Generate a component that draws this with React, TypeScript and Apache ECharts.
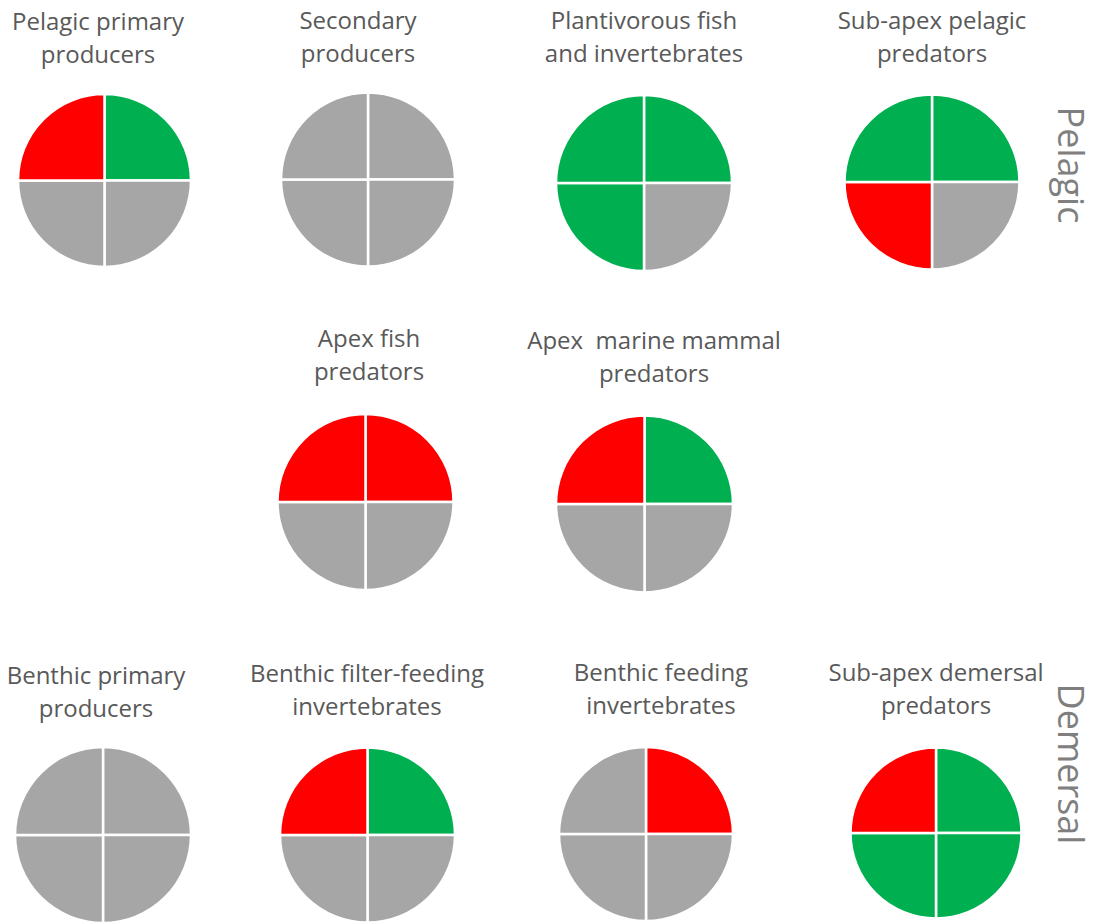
import React, { useEffect, useRef } from "react";
import * as echarts from "echarts";

// ---- data ----
const groupNames = [
  "Pelagic primary\nproducers",
  "Secondary\nproducers",
  "Plantivorous fish\nand invertebrates",
  "Sub-apex pelagic\npredators",
  "Apex fish\npredators",
  "Apex  marine mammal\npredators",
  "Benthic primary\nproducers",
  "Benthic filter-feeding\ninvertebrates",
  "Benthic feeding\ninvertebrates",
  "Sub-apex demersal\npredators",
];
// quadrant order: top-right, bottom-right, bottom-left, top-left
const quadrantNames = ["Q1", "Q2", "Q3", "Q4"];
const quadrantValues = [1, 1, 1, 1];
const quadrantStatus = [
  ["good", "none", "none", "bad"],
  ["none", "none", "none", "none"],
  ["good", "none", "good", "good"],
  ["good", "none", "bad", "good"],
  ["bad", "none", "none", "bad"],
  ["good", "none", "none", "bad"],
  ["none", "none", "none", "none"],
  ["good", "none", "none", "bad"],
  ["bad", "none", "none", "none"],
  ["good", "good", "good", "bad"],
];
const sideLabels = ["Pelagic", "Demersal"];

// ---- layout / style ----
const statusColor: Record<string, string> = {
  good: "#00B050",
  bad: "#FF0000",
  none: "#A6A6A6",
};
const pieLayout = [
  { cx: 104.5, cy: 180.5, r: 86.5 },
  { cx: 368, cy: 179.5, r: 87 },
  { cx: 644, cy: 183, r: 88 },
  { cx: 932, cy: 182, r: 87.5 },
  { cx: 365.5, cy: 502, r: 88 },
  { cx: 644.5, cy: 504, r: 88.5 },
  { cx: 103, cy: 835, r: 88 },
  { cx: 367.5, cy: 835, r: 87.5 },
  { cx: 646, cy: 834, r: 87 },
  { cx: 936, cy: 833, r: 85.5 },
];
const titleLayout = [
  { x: 98, y: 36.5 },
  { x: 358, y: 35.5 },
  { x: 644, y: 35.5 },
  { x: 932, y: 35.5 },
  { x: 369, y: 353.5 },
  { x: 654, y: 355.5 },
  { x: 96, y: 690.5 },
  { x: 367, y: 688.5 },
  { x: 661, y: 687.5 },
  { x: 936, y: 687.5 },
];
const sideLayout = [
  { x: 1071, y: 165 },
  { x: 1071, y: 764 },
];

export default function App() {
  const ref = useRef<HTMLDivElement>(null);
  useEffect(() => {
    if (!ref.current) return;
    const chart = echarts.init(ref.current, null, { renderer: "svg" });
    const series = groupNames.map((name, i) => ({
      type: "pie",
      name: name.replace("\n", " "),
      center: [pieLayout[i].cx, pieLayout[i].cy],
      radius: pieLayout[i].r,
      startAngle: 90,
      clockwise: true,
      silent: true,
      label: { show: false },
      labelLine: { show: false },
      itemStyle: { borderColor: "#ffffff", borderWidth: 2.5 },
      emphasis: { disabled: true },
      data: quadrantValues.map((v, q) => ({
        name: quadrantNames[q],
        value: v,
        itemStyle: { color: statusColor[quadrantStatus[i][q]] },
      })),
    }));
    const titles = groupNames.map((name, i) => ({
      type: "text",
      x: titleLayout[i].x,
      y: titleLayout[i].y,
      style: {
        text: name,
        fill: "#595959",
        font: '24px "Open Sans"',
        lineHeight: 33,
        textAlign: "center",
        textVerticalAlign: "middle",
      },
    }));
    const sides = sideLabels.map((t, i) => ({
      type: "text",
      x: sideLayout[i].x,
      y: sideLayout[i].y,
      rotation: -Math.PI / 2,
      style: {
        text: t,
        fill: "#7F7F7F",
        font: '36px "Open Sans"',
        textAlign: "center",
        textVerticalAlign: "middle",
      },
    }));
    chart.setOption({
      animation: false,
      backgroundColor: "#ffffff",
      series,
      graphic: [...titles, ...sides],
    });
    return () => chart.dispose();
  }, []);
  return (
    <div
      ref={ref}
      style={{ position: "absolute", left: 0, top: 0, width: 1094, height: 922 }}
    />
  );
}
